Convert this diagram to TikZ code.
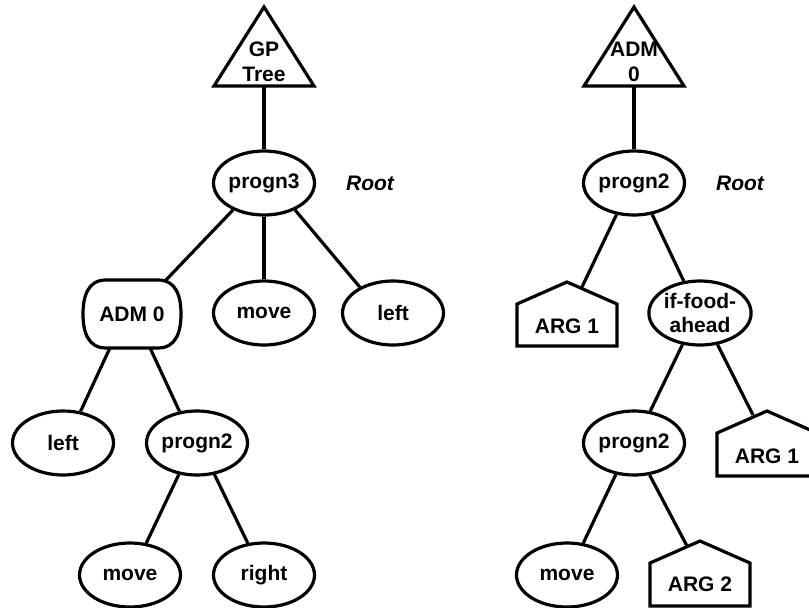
\documentclass[tikz,border=0pt]{standalone}
\usepackage{fontspec}
\setmainfont{Liberation Sans}
\usetikzlibrary{shapes.geometric,calc}
\newcommand{\drawhouse}[3]{\draw (#1-50,#3) -- (#1-50,#2+22) -- (#1,#2) -- (#1+50,#2+22) -- (#1+50,#3) -- cycle;}
\begin{document}
\begin{tikzpicture}[x=1pt,y=-1pt,line width=3.2pt,line join=miter,
  lbl/.style={font=\fontsize{21}{24.5}\selectfont\bfseries, align=center, inner sep=0pt},
  ell/.style={lbl, ellipse, draw, minimum width=101pt, minimum height=64pt},
  box/.style={lbl, rectangle, minimum width=97pt, minimum height=68pt, outer sep=0pt},
  tag/.style={font=\fontsize{21}{24.5}\selectfont\bfseries\itshape, inner sep=0pt}]
\useasboundingbox (0,0) rectangle (809,608);
\clip (0,0) rectangle (809,608);

% ---------------- left tree ----------------
\draw (264,7) -- (314,86) -- (214,86) -- cycle;
\node[lbl] (gp) at (264,62) {GP\\Tree};
\coordinate (gpb) at (264,86);

\node[ell] (p3) at (264,183) {progn3};
\node[tag] (root1) at (370,183) {Root};

\node[box] (adm) at (132,314) {ADM 0};
\draw (106,280) -- (158,280) .. controls (176,280) and (181,296) .. (181,314)
      .. controls (181,332) and (176,348) .. (158,348) -- (106,348)
      .. controls (88,348) and (83,332) .. (83,314)
      .. controls (83,296) and (88,280) .. (106,280) -- cycle;

\node[ell] (mv1) at (264,313) {move};
\node[ell] (lf1) at (393,313) {left};
\node[ell] (lf2) at (63,443) {left};
\node[ell] (pg2) at (197,443) {progn2};
\node[ell] (mv2) at (130,575) {move};
\node[ell] (rt) at (264,575) {right};

\draw (gpb) -- (p3);
\draw (p3.221) -- (adm.45);
\draw (p3) -- (mv1);
\draw (p3.319) -- (lf1.142);
\draw (adm.237) -- (lf2.61);
\draw (adm.298) -- (pg2.119);
\draw (pg2.240) -- (mv2.63);
\draw (pg2.299) -- (rt.117);

% ---------------- right tree ----------------
\draw (634,7) -- (684,86) -- (584,86) -- cycle;
\node[lbl] (adm2) at (634,62) {ADM\\0};
\coordinate (admb) at (634,86);

\node[ell] (pr2) at (634,183) {progn2};
\node[tag] (root2) at (740,183) {Root};

\drawhouse{567}{282}{346}
\node[lbl] (a1) at (567,326) {ARG 1};
\coordinate (a1t) at (582,287);

\node[ell] (iff) at (700,313) {if-food-\\ahead};
\node[ell] (pr2b) at (634,443) {progn2};

\drawhouse{767}{411}{476}
\node[lbl] (a1r) at (767,456) {ARG 1};
\coordinate (a1rt) at (753,415);

\node[ell] (mv3) at (567,575) {move};

\drawhouse{700}{541}{606}
\node[lbl] (a2) at (700,584) {ARG 2};
\coordinate (a2t) at (687,546);

\draw (admb) -- (pr2);
\draw (pr2.241) -- (a1t);
\draw (pr2.300) -- (iff.117);
\draw (iff.241) -- (pr2b.63);
\draw (iff.299) -- (a1rt);
\draw (pr2b.240) -- (mv3.63);
\draw (pr2b.296) -- (a2t);
\end{tikzpicture}
\end{document}
